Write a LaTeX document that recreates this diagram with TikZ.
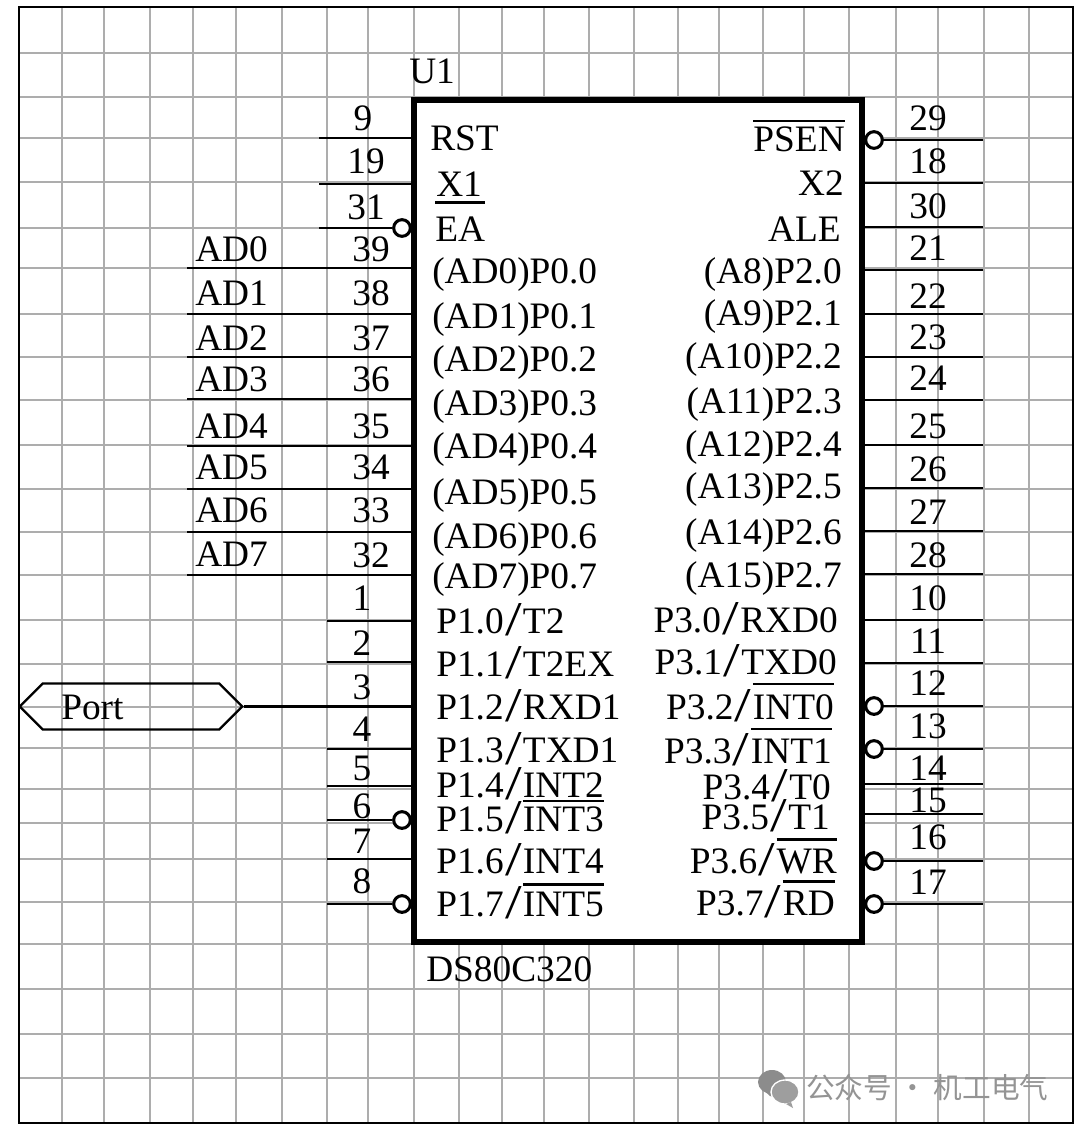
\documentclass[tikz,border=0pt]{standalone}
\usepackage{fontspec}
\usepackage{graphicx}
\setmainfont{Liberation Serif}
\newfontfamily\cjkwm{Noto Sans CJK SC}
\usetikzlibrary{shapes.symbols}
\newcommand{\ovl}[2][2]{\leavevmode\vbox{\hrule height 1.7pt\kern #1pt\hbox{#2}}}
\newcommand{\sls}{\kern1pt\raisebox{-2pt}{\scalebox{1.6}[1.3]{/}}\kern1pt}
\tikzset{
  x=0.75pt,y=-0.75pt,
  gridline/.style={draw=black!32,line width=1.5pt},
  frameline/.style={draw=black,line width=1.8pt},
  wire/.style={draw=black,line width=1.7pt},
  chip/.style={draw=black,fill=white,line width=3.8pt,rectangle,minimum width=336pt,minimum height=631.5pt,inner sep=0pt},
  bubble/.style={circle,draw=black,line width=2.3pt,fill=white,minimum size=12.5pt,inner sep=0pt},
  lbl/.style={font=\fontsize{28}{30}\selectfont,text=black,inner sep=0pt,anchor=base west},
  rbl/.style={lbl,anchor=base east},
  pinno/.style={lbl,anchor=base},
  wm/.style={font=\cjkwm\fontsize{21.5}{24}\selectfont,text=black!42,inner sep=0pt,anchor=base west},
  portshape/.style={signal,signal to=east and west,signal pointer angle=90,draw=black,line width=1.7pt,minimum width=167pt,minimum height=34.5pt,inner sep=0pt}
}
\begin{document}
\begin{tikzpicture}
\useasboundingbox (0,0) rectangle (1080,1131);
\fill[white] (0,0) rectangle (1080,1131);
% grid
\foreach \gx in {62,104,150,193,236,282,327,368,414,459,502,544,589,634,678,719,763,804,849,896,938,984,1029}
  \draw[gridline] (\gx,8) -- (\gx,1123);
\foreach \gy in {53,97,138,182,228,268,314,357,400,445,489,532,575,620,664,707,748,789,823,859,902,944,989,1034,1078}
  \draw[gridline] (19,\gy) -- (1073,\gy);
\draw[frameline] (19,7) rectangle (1073,1123);
% chip
\node[chip] (U) at (638,521) {};
\node[lbl] (u1) at (409,84) {U1};
\node[lbl] (dsname) at (426,981) {DS80C320};
% left pins: name/y/start x/number baseline/number centre
\foreach \n/\wy/\sx/\by/\cx in {9/138/319/130/363,19/184/319/173/366,39/268/187/261/371,38/314/187/305/371,37/357/187/350/371,36/399/187/391/371,35/446/187/438/371,34/489/187/479/371,33/532/187/522/371,32/575/187/567/371,1/621/327/610/362,2/662/327/655/362,4/749/327/741/362,5/786/327/780/362,7/859/327/853/362}{
  \coordinate (a\n) at (\sx,\wy);
  \draw[wire] (a\n) -- (a\n -| U.west);
  \node[pinno] (na\n) at (\cx,\by) {\n};
}
% left pins with bubbles
\foreach \n/\wy/\sx/\by/\cx in {31/228/319/219/366,6/820/327/818/362,8/904/327/893/362}{
  \coordinate (a\n) at (\sx,\wy);
  \node[bubble] (ba\n) at (402,\wy) {};
  \draw[wire] (a\n) -- (ba\n);
  \node[pinno] (na\n) at (\cx,\by) {\n};
}
% port
\node[portshape] (port) at (131,706.5) {};
\node[lbl] (porttext) at (61,719) {Port};
\draw[wire] (port.east) -- (port.east -| U.west);
\node[pinno] (na3) at (362,699) {3};
% right pins
\foreach \n/\wy/\by in {18/183/173,30/227/218,21/270/260,22/314/308,23/357/349,24/400/390,25/445/438,26/488/481,27/531/524,28/574/567,10/620/610,11/663/653,14/784/780,15/814/812}{
  \coordinate (b\n) at (983,\wy);
  \draw[wire] (b\n) -- (b\n -| U.east);
  \node[pinno] (nb\n) at (928,\by) {\n};
}
\foreach \n/\wy/\by in {29/140/130,12/706/695,13/749/738,16/861/849,17/904/894}{
  \coordinate (b\n) at (983,\wy);
  \node[bubble] (bb\n) at (874,\wy) {};
  \draw[wire] (b\n) -- (bb\n);
  \node[pinno] (nb\n) at (928,\by) {\n};
}
% AD labels
\foreach \i/\by in {0/261,1/305,2/350,3/391,4/438,5/479,6/522,7/566}
  \node[lbl] (adn\i) at (195,\by) {AD\i};
% left chip labels
\node[lbl] (lrst) at (430,150) {RST};
\node[lbl] (lx1) at (436,196) {X1};
\node[lbl] (lea) at (435,241) {\ovl[9.5]{EA}};
\foreach \i/\by in {0/283,1/328,2/371,3/415,4/458,5/504,6/548,7/588}
  \node[lbl] (lp0\i) at (432,\by) {(AD\i)P0.\i};
\node[lbl] (lp10) at (436,633) {P1.0\sls T2};
\node[lbl] (lp11) at (436,676) {P1.1\sls T2EX};
\node[lbl] (lp12) at (436,719) {P1.2\sls RXD1};
\node[lbl] (lp13) at (436,762) {P1.3\sls TXD1};
\node[lbl] (lp14) at (436,797) {P1.4\sls INT2};
\node[lbl] (lp15) at (436,831) {P1.5\sls\ovl[3]{INT3}};
\node[lbl] (lp16) at (436,873) {P1.6\sls INT4};
\node[lbl] (lp17) at (436,916) {P1.7\sls\ovl[4.5]{INT5}};
% right chip labels
\node[rbl] (rpsen) at (845,151) {\ovl[3]{PSEN}};
\node[rbl] (rx2) at (844,195) {X2};
\node[rbl] (rale) at (841,241) {ALE};
\foreach \a/\i/\by in {8/0/283,9/1/325,10/2/368,11/3/413,12/4/456,13/5/498,14/6/544,15/7/587}
  \node[rbl] (rp2\i) at (842,\by) {(A\a)P2.\i};
\node[rbl] (rp30) at (838,632) {P3.0\sls RXD0};
\node[rbl] (rp31) at (837,674) {P3.1\sls TXD0};
\node[rbl] (rp32) at (834,719) {P3.2\sls\ovl[7]{INT0}};
\node[rbl] (rp33) at (832,763) {P3.3\sls\ovl[6]{INT1}};
\node[rbl] (rp34) at (831,799) {P3.4\sls T0};
\node[rbl] (rp35) at (830,829) {P3.5\sls T1};
\node[rbl] (rp36) at (837,873) {P3.6\sls\ovl[6]{WR}};
\node[rbl] (rp37) at (835,915) {P3.7\sls\ovl[6]{RD}};
% watermark
\fill[black!45] (772,1082) ellipse (14 and 12);
\fill[black!45] (782,1099) -- (770,1096) -- (764,1090) -- cycle;
\fill[black!38,draw=white,line width=1pt] (785,1092) ellipse (14 and 12);
\fill[black!38] (791,1102) -- (793,1108) -- (786,1104) -- cycle;
\node[wm] (wmark) at (806,1098) {公众号 · 机工电气};
\end{tikzpicture}
\end{document}
